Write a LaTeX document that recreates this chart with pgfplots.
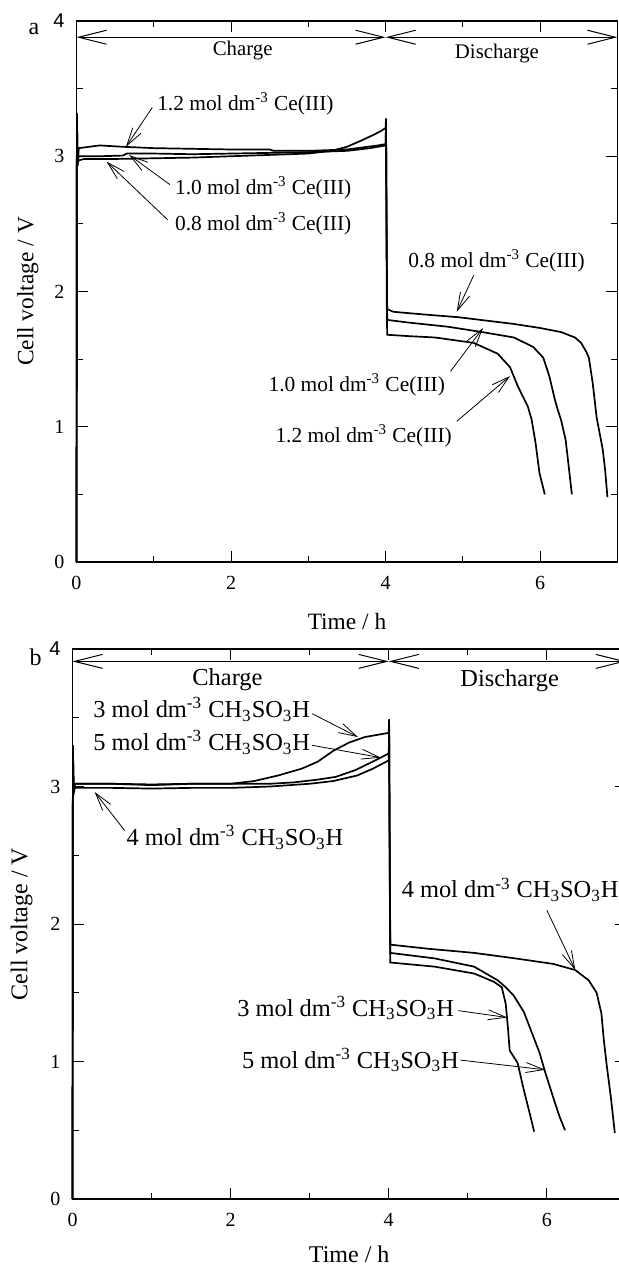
\documentclass[border=0pt]{standalone}
\usepackage{fontspec}
\setmainfont{Liberation Serif}
\newfontfamily\sansf{Liberation Sans}
\usepackage{pgfplots}
\pgfplotsset{compat=1.18}
\usetikzlibrary{arrows.meta}
\pgfplotsset{
  panel/.style={
    scale only axis, anchor=south west, clip=false,
    xmin=0, xmax=7, ymin=0, ymax=4,
    xtick={0,2,4,6}, xticklabels={0,2,4,6},
    minor xtick={1,3,5,7},
    ytick={0,1,2,3,4}, yticklabels={0,1,2,3,{\sansf 4}},
    minor ytick={0.5,1.5,2.5,3.5},
    major tick length=5.5pt, minor tick length=3pt,
    tick style={black, line width=0.5pt},
    axis line style={black, line width=0.6pt},
    ticklabel style={font=\fontsize{10}{12}\selectfont},
    xticklabel style={yshift=-3.5pt},
    yticklabel style={xshift=-2.5pt},
  },
}
\tikzset{
  crv/.style={black, line width=0.85pt, mark=none},
  ann/.style={-{Straight Barb[length=9pt,width=5pt]}, line width=0.4pt},
  dbl/.style={{Straight Barb[length=14pt,width=7pt]}-{Straight Barb[length=14pt,width=7pt]}, line width=0.5pt},
}
\begin{document}
\begin{tikzpicture}
\useasboundingbox (0,0) rectangle (309.5pt,-633.5pt);
\clip (0,0) rectangle (309.5pt,-633.5pt);
% ---------------- panel a ----------------
\begin{axis}[panel, at={(38.25pt,-281pt)}, width=270.5pt, height=270.5pt,
  xlabel={Time / h}, ylabel={Cell voltage / V},
  label style={font=\fontsize{11.7}{14}\selectfont},
  xlabel style={at={(axis description cs:0.5,-0.110)}, anchor=center},
  ylabel style={at={(axis description cs:-0.090,0.5)}, anchor=center}]
% 0.8 mol dm-3
\addplot[crv] coordinates {(0,0) (0.005,3.30) (0.015,2.95) (0.03,2.97) (0.1,2.98) (0.5,2.98) (1.0,2.985) (1.5,2.99) (2.0,3.0) (2.5,3.01) (3.0,3.02) (3.3,3.04) (3.5,3.07) (3.7,3.12) (3.85,3.16) (3.95,3.19) (4.0,3.21) (4.005,3.28) (4.012,2.45) (4.02,1.87) (4.1,1.85) (4.5,1.83) (4.94,1.81) (5.3,1.785) (5.66,1.76) (6.0,1.73) (6.27,1.70) (6.45,1.66) (6.53,1.62) (6.6,1.55) (6.63,1.51) (6.68,1.32) (6.73,1.07) (6.78,0.92) (6.81,0.83) (6.84,0.68) (6.87,0.48)};
% 1.0 mol dm-3
\addplot[crv] coordinates {(0,0) (0.005,3.25) (0.015,2.97) (0.03,3.0) (0.3,3.0) (0.6,3.005) (0.65,3.02) (1.0,3.02) (1.5,3.015) (2.0,3.02) (2.5,3.025) (3.0,3.03) (3.5,3.04) (3.8,3.06) (4.0,3.08) (4.005,3.22) (4.015,2.3) (4.02,1.79) (4.3,1.77) (4.8,1.74) (5.25,1.70) (5.66,1.66) (5.91,1.59) (6.04,1.51) (6.12,1.37) (6.19,1.20) (6.23,1.12) (6.27,1.05) (6.33,0.90) (6.37,0.70) (6.41,0.50)};
% 1.2 mol dm-3
\addplot[crv] coordinates {(0,0) (0.005,3.32) (0.015,2.93) (0.03,3.06) (0.3,3.08) (0.6,3.07) (1.0,3.06) (1.5,3.055) (2.0,3.05) (2.5,3.05) (2.55,3.04) (3.0,3.04) (3.5,3.05) (3.9,3.08) (4.0,3.09) (4.005,3.25) (4.015,1.9) (4.02,1.68) (4.3,1.67) (4.64,1.66) (5.14,1.62) (5.45,1.54) (5.61,1.44) (5.71,1.30) (5.84,1.15) (5.89,1.05) (5.94,0.88) (5.99,0.66) (6.06,0.50)};
% charge / discharge arrows
\draw[dbl] (axis cs:0,3.88) -- (axis cs:4,3.88);
\draw[dbl] (axis cs:4,3.88) -- (axis cs:7,3.88);
\node[font=\fontsize{10.4}{12}\selectfont] at (axis cs:2.15,3.78) {Charge};
\node[font=\fontsize{10.4}{12}\selectfont] at (axis cs:5.44,3.76) {Discharge};
% annotations
\begin{scope}[every node/.style={font=\fontsize{10.7}{12}\selectfont, anchor=west, inner sep=0pt}]
\node at (axis cs:1.04,3.39) {1.2 mol dm\textsuperscript{-3} Ce(III)};
\draw[ann] (axis cs:0.98,3.36) -- (axis cs:0.64,3.07);
\node at (axis cs:1.27,2.77) {1.0 mol dm\textsuperscript{-3} Ce(III)};
\draw[ann] (axis cs:1.21,2.79) -- (axis cs:0.68,3.01);
\node at (axis cs:1.27,2.50) {0.8 mol dm\textsuperscript{-3} Ce(III)};
\draw[ann] (axis cs:1.18,2.53) -- (axis cs:0.39,2.96);
\node at (axis cs:4.29,2.23) {0.8 mol dm\textsuperscript{-3} Ce(III)};
\draw[ann] (axis cs:5.14,2.12) -- (axis cs:4.92,1.85);
\node at (axis cs:2.48,1.31) {1.0 mol dm\textsuperscript{-3} Ce(III)};
\draw[ann] (axis cs:4.84,1.41) -- (axis cs:5.26,1.73);
\node at (axis cs:2.57,0.93) {1.2 mol dm\textsuperscript{-3} Ce(III)};
\draw[ann] (axis cs:4.92,1.04) -- (axis cs:5.61,1.375);
\end{scope}
\node[font=\fontsize{12}{14}\selectfont] at (axis description cs:-0.0786,0.985) {a};
\end{axis}
% ---------------- panel b ----------------
\begin{axis}[panel, at={(36.25pt,-599.5pt)}, width=276.7pt, height=275pt,
  xlabel={Time / h}, ylabel={Cell voltage / V},
  label style={font=\fontsize{12}{14}\selectfont},
  xlabel style={at={(axis description cs:0.5,-0.100)}, anchor=center},
  ylabel style={at={(axis description cs:-0.092,0.5)}, anchor=center}]
% 3 mol dm-3
\addplot[crv] coordinates {(0,0) (0.005,3.30) (0.015,2.95) (0.03,3.02) (0.5,3.02) (1.0,3.01) (1.5,3.02) (2.0,3.02) (2.3,3.04) (2.6,3.08) (2.9,3.13) (3.1,3.18) (3.3,3.26) (3.5,3.32) (3.7,3.36) (3.9,3.38) (4.0,3.39) (4.005,3.49) (4.012,2.4) (4.02,1.72) (4.58,1.69) (5.08,1.64) (5.33,1.58) (5.43,1.54) (5.48,1.42) (5.51,1.23) (5.53,1.08) (5.63,0.99) (5.71,0.79) (5.78,0.63) (5.84,0.49)};
% 4 mol dm-3
\addplot[crv] coordinates {(0,0) (0.005,3.28) (0.015,2.95) (0.03,2.99) (0.5,2.99) (1.0,2.985) (1.5,2.99) (2.0,2.99) (2.5,3.0) (3.0,3.02) (3.3,3.04) (3.6,3.08) (3.8,3.13) (4.0,3.19) (4.005,3.4) (4.015,2.3) (4.02,1.85) (4.5,1.82) (5.08,1.79) (5.6,1.75) (6.08,1.71) (6.36,1.665) (6.53,1.59) (6.63,1.50) (6.69,1.35) (6.72,1.16) (6.76,0.96) (6.81,0.74) (6.86,0.48)};
% 5 mol dm-3
\addplot[crv] coordinates {(0,0) (0.005,3.25) (0.015,2.97) (0.03,3.02) (0.5,3.02) (1.0,3.015) (1.5,3.02) (2.0,3.02) (2.5,3.02) (2.8,3.03) (3.1,3.05) (3.33,3.07) (3.58,3.12) (3.83,3.19) (4.0,3.24) (4.005,3.35) (4.015,2.2) (4.02,1.79) (4.58,1.75) (5.08,1.69) (5.38,1.59) (5.48,1.54) (5.58,1.48) (5.71,1.36) (5.81,1.21) (5.91,1.06) (5.98,0.92) (6.08,0.74) (6.16,0.60) (6.23,0.50)};
\draw[dbl] (axis cs:0,3.91) -- (axis cs:4,3.91);
\draw[dbl] (axis cs:4,3.91) -- (axis cs:7,3.91);
\node[font=\fontsize{12.2}{14}\selectfont] at (axis cs:1.96,3.78) {Charge};
\node[font=\fontsize{12.2}{14}\selectfont] at (axis cs:5.53,3.77) {Discharge};
\begin{scope}[every node/.style={font=\fontsize{12.2}{14}\selectfont, anchor=west, inner sep=0pt}]
\node at (axis cs:0.26,3.56) {3 mol dm\textsuperscript{-3} CH\textsubscript{3}SO\textsubscript{3}H};
\draw[ann] (axis cs:3.03,3.53) -- (axis cs:3.61,3.36);
\node at (axis cs:0.26,3.32) {5 mol dm\textsuperscript{-3} CH\textsubscript{3}SO\textsubscript{3}H};
\draw[ann] (axis cs:3.03,3.30) -- (axis cs:3.90,3.21);
\node at (axis cs:0.68,2.63) {4 mol dm\textsuperscript{-3} CH\textsubscript{3}SO\textsubscript{3}H};
\draw[ann] (axis cs:0.66,2.68) -- (axis cs:0.28,2.96);
\node at (axis cs:4.16,2.25) {4 mol dm\textsuperscript{-3} CH\textsubscript{3}SO\textsubscript{3}H};
\draw[ann] (axis cs:6.0,2.10) -- (axis cs:6.36,1.665);
\node at (axis cs:2.08,1.39) {3 mol dm\textsuperscript{-3} CH\textsubscript{3}SO\textsubscript{3}H};
\draw[ann] (axis cs:4.88,1.37) -- (axis cs:5.50,1.32);
\node at (axis cs:2.14,1.01) {5 mol dm\textsuperscript{-3} CH\textsubscript{3}SO\textsubscript{3}H};
\draw[ann] (axis cs:4.91,1.01) -- (axis cs:5.98,0.94);
\end{scope}
\node[font=\fontsize{12}{14}\selectfont] at (axis description cs:-0.0667,0.985) {b};
\end{axis}
\end{tikzpicture}
\end{document}
